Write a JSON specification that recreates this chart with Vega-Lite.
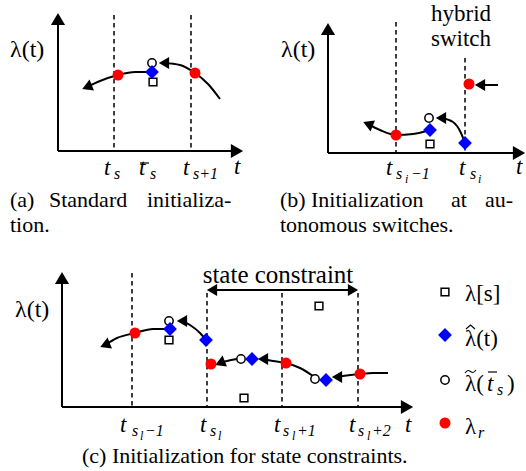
{
  "$schema": "https://vega.github.io/schema/vega-lite/v6.json",
  "width": 526,
  "height": 471,
  "padding": 0,
  "autosize": {"type": "none"},
  "background": "white",
  "config": {"view": {"stroke": null}, "text": {"font": "Liberation Serif, DejaVu Serif, Times New Roman, serif"}},
  "datasets": {
    "segs": [
      {"g": "axis", "x": 58, "y": 151, "x2": 58, "y2": 22},
      {"g": "axis", "x": 58, "y": 151, "x2": 234, "y2": 151},
      {"g": "axis", "x": 328, "y": 153, "x2": 328, "y2": 32},
      {"g": "axis", "x": 328, "y": 153, "x2": 516, "y2": 153},
      {"g": "axis", "x": 62, "y": 407, "x2": 62, "y2": 281},
      {"g": "axis", "x": 62, "y": 407, "x2": 404, "y2": 407},
      {"g": "axis", "x": 212, "y": 290, "x2": 353, "y2": 290},
      {"g": "axis", "x": 498, "y": 85, "x2": 480, "y2": 85},
      {"g": "bar", "x": 140, "y": 163, "x2": 149, "y2": 163},
      {"g": "bar", "x": 488, "y": 372, "x2": 497, "y2": 372},
      {"g": "dash", "x": 114, "y": 15, "x2": 114, "y2": 151},
      {"g": "dash", "x": 191, "y": 15, "x2": 191, "y2": 151},
      {"g": "dash", "x": 396, "y": 22, "x2": 396, "y2": 153},
      {"g": "dash", "x": 465, "y": 58, "x2": 465, "y2": 153},
      {"g": "dash", "x": 132, "y": 273, "x2": 132, "y2": 407},
      {"g": "dash", "x": 207, "y": 293, "x2": 207, "y2": 407},
      {"g": "dash", "x": 282, "y": 293, "x2": 282, "y2": 407},
      {"g": "dash", "x": 358, "y": 293, "x2": 358, "y2": 407}
    ],
    "accents": [
      {"c": "hat", "x": 466, "y": 329}, {"c": "hat", "x": 470.5, "y": 325}, {"c": "hat", "x": 475, "y": 329},
      {"c": "tilde", "x": 465, "y": 373}, {"c": "tilde", "x": 468, "y": 370.5}, {"c": "tilde", "x": 473, "y": 372.5}, {"c": "tilde", "x": 476, "y": 370}
    ],
    "curves": [
      {"c": "a1", "x": 87, "y": 87}, {"c": "a1", "x": 100, "y": 81}, {"c": "a1", "x": 118, "y": 75}, {"c": "a1", "x": 135, "y": 72}, {"c": "a1", "x": 152, "y": 72},
      {"c": "a2", "x": 164, "y": 63}, {"c": "a2", "x": 180, "y": 65}, {"c": "a2", "x": 195, "y": 73}, {"c": "a2", "x": 208, "y": 84}, {"c": "a2", "x": 220, "y": 99},
      {"c": "b1", "x": 368, "y": 124}, {"c": "b1", "x": 380, "y": 130}, {"c": "b1", "x": 396, "y": 135}, {"c": "b1", "x": 413, "y": 134}, {"c": "b1", "x": 430, "y": 130},
      {"c": "b2", "x": 441, "y": 118}, {"c": "b2", "x": 453, "y": 122}, {"c": "b2", "x": 461, "y": 133}, {"c": "b2", "x": 465, "y": 143},
      {"c": "c1", "x": 105, "y": 345}, {"c": "c1", "x": 117, "y": 338}, {"c": "c1", "x": 135, "y": 333}, {"c": "c1", "x": 153, "y": 329}, {"c": "c1", "x": 170, "y": 329},
      {"c": "c2", "x": 182, "y": 321}, {"c": "c2", "x": 190, "y": 325}, {"c": "c2", "x": 200, "y": 333}, {"c": "c2", "x": 206, "y": 340},
      {"c": "c3", "x": 220, "y": 363}, {"c": "c3", "x": 227, "y": 361}, {"c": "c3", "x": 237, "y": 359},
      {"c": "c4", "x": 263, "y": 359}, {"c": "c4", "x": 273, "y": 361}, {"c": "c4", "x": 286, "y": 363}, {"c": "c4", "x": 300, "y": 368}, {"c": "c4", "x": 313, "y": 376},
      {"c": "c5", "x": 337, "y": 377}, {"c": "c5", "x": 343, "y": 376}, {"c": "c5", "x": 360, "y": 374}, {"c": "c5", "x": 373, "y": 373}, {"c": "c5", "x": 388, "y": 373}
    ],
    "pts": [
      {"k": "red", "x": 118, "y": 75}, {"k": "red", "x": 195, "y": 73},
      {"k": "red", "x": 396, "y": 135}, {"k": "red", "x": 469, "y": 84},
      {"k": "red", "x": 135, "y": 333}, {"k": "red", "x": 211, "y": 364}, {"k": "red", "x": 286, "y": 363}, {"k": "red", "x": 360, "y": 374},
      {"k": "red", "x": 445, "y": 423},
      {"k": "blue", "x": 152, "y": 72},
      {"k": "blue", "x": 430, "y": 130}, {"k": "blue", "x": 465, "y": 143},
      {"k": "blue", "x": 170, "y": 329}, {"k": "blue", "x": 206, "y": 340}, {"k": "blue", "x": 252, "y": 359}, {"k": "blue", "x": 326, "y": 380},
      {"k": "blue", "x": 445, "y": 335},
      {"k": "circ", "x": 152, "y": 63}, {"k": "circ", "x": 429, "y": 118},
      {"k": "circ", "x": 169, "y": 321}, {"k": "circ", "x": 241, "y": 359}, {"k": "circ", "x": 315, "y": 379},
      {"k": "circ", "x": 445, "y": 380},
      {"k": "sq", "x": 153, "y": 82}, {"k": "sq", "x": 430, "y": 144},
      {"k": "sq", "x": 169, "y": 340}, {"k": "sq", "x": 244, "y": 398}, {"k": "sq", "x": 319, "y": 306},
      {"k": "sq", "x": 445, "y": 292}
    ],
    "heads": [
      {"k": "up", "x": 58, "y": 19}, {"k": "up", "x": 328, "y": 29}, {"k": "up", "x": 62, "y": 278},
      {"k": "right", "x": 237, "y": 151}, {"k": "right", "x": 519, "y": 153}, {"k": "right", "x": 407, "y": 407},
      {"k": "sright", "x": 353, "y": 290}, {"k": "left", "x": 212, "y": 290},
      {"k": "left", "x": 164, "y": 63}, {"k": "left", "x": 441, "y": 118}, {"k": "left", "x": 480, "y": 85},
      {"k": "left", "x": 182, "y": 321}, {"k": "left", "x": 263, "y": 359}, {"k": "left", "x": 337, "y": 377},
      {"k": "ld", "x": 87, "y": 87}, {"k": "ld", "x": 105, "y": 345}, {"k": "ld", "x": 220, "y": 363},
      {"k": "lu", "x": 368, "y": 124}
    ],
    "txt": [
      {"k": "lam", "x": 10, "y": 57, "t": "λ(t)"},
      {"k": "lam", "x": 281, "y": 57, "t": "λ(t)"},
      {"k": "lam", "x": 15, "y": 317, "t": "λ(t)"},
      {"k": "t", "x": 104, "y": 175, "t": "t"},
      {"k": "t", "x": 139, "y": 175, "t": "t"},
      {"k": "t", "x": 183, "y": 175, "t": "t"},
      {"k": "t", "x": 234, "y": 174, "t": "t"},
      {"k": "t", "x": 386, "y": 175, "t": "t"},
      {"k": "t", "x": 459, "y": 175, "t": "t"},
      {"k": "t", "x": 516, "y": 174, "t": "t"},
      {"k": "t", "x": 120, "y": 432, "t": "t"},
      {"k": "t", "x": 200, "y": 432, "t": "t"},
      {"k": "t", "x": 274, "y": 432, "t": "t"},
      {"k": "t", "x": 349, "y": 432, "t": "t"},
      {"k": "t", "x": 405, "y": 432, "t": "t"},
      {"k": "t", "x": 487, "y": 391, "t": "t"},
      {"k": "sub", "x": 114, "y": 179, "t": "s"},
      {"k": "sub", "x": 150, "y": 179, "t": "s"},
      {"k": "sub", "x": 193, "y": 179, "t": "s+1"},
      {"k": "sub", "x": 396, "y": 179, "t": "s"},
      {"k": "sub", "x": 411, "y": 179, "t": "−1"},
      {"k": "sub", "x": 470, "y": 179, "t": "s"},
      {"k": "sub", "x": 132, "y": 436, "t": "s"},
      {"k": "sub", "x": 145, "y": 436, "t": "−1"},
      {"k": "sub", "x": 210, "y": 436, "t": "s"},
      {"k": "sub", "x": 283, "y": 436, "t": "s"},
      {"k": "sub", "x": 297, "y": 436, "t": "+1"},
      {"k": "sub", "x": 358, "y": 436, "t": "s"},
      {"k": "sub", "x": 372, "y": 436, "t": "+2"},
      {"k": "ss", "x": 405, "y": 183, "t": "i"},
      {"k": "ss", "x": 478, "y": 183, "t": "i"},
      {"k": "ss", "x": 140, "y": 440, "t": "l"},
      {"k": "ss", "x": 218, "y": 440, "t": "l"},
      {"k": "ss", "x": 292, "y": 440, "t": "l"},
      {"k": "ss", "x": 367, "y": 440, "t": "l"},
      {"k": "cap", "x": 10, "y": 207, "t": "(a)"},
      {"k": "cap", "x": 49, "y": 207, "t": "Standard"},
      {"k": "cap", "x": 147, "y": 207, "t": "initializa-"},
      {"k": "cap", "x": 10, "y": 232, "t": "tion."},
      {"k": "cap", "x": 280, "y": 207, "t": "(b)"},
      {"k": "cap", "x": 311, "y": 207, "t": "Initialization"},
      {"k": "cap", "x": 451, "y": 207, "t": "at"},
      {"k": "cap", "x": 485, "y": 207, "t": "au-"},
      {"k": "cap", "x": 280, "y": 232, "t": "tonomous switches."},
      {"k": "cap", "x": 82, "y": 463, "t": "(c) Initialization for state constraints."},
      {"k": "hyb", "x": 461, "y": 21, "t": "hybrid"},
      {"k": "hyb", "x": 461, "y": 46, "t": "switch"},
      {"k": "head", "x": 278, "y": 283, "t": "state constraint"},
      {"k": "leg", "x": 465, "y": 301, "t": "λ[s]"},
      {"k": "leg", "x": 465, "y": 346, "t": "λ(t)"},
      {"k": "leg", "x": 465, "y": 391, "t": "λ("},
      {"k": "leg", "x": 507, "y": 391, "t": ")"},
      {"k": "legsub", "x": 497, "y": 395, "t": "s"},
      {"k": "leg", "x": 465, "y": 434, "t": "λ"},
      {"k": "legsub", "x": 478, "y": 438, "t": "r"}
    ]
  },
  "encoding": {
    "x": {"field": "x", "type": "quantitative", "scale": {"domain": [0, 526], "nice": false, "zero": false}, "axis": null},
    "y": {"field": "y", "type": "quantitative", "scale": {"domain": [0, 471], "nice": false, "zero": false, "reverse": true}, "axis": null}
  },
  "layer": [
    {
      "data": {"name": "segs"},
      "transform": [{"filter": "datum.g === 'axis'"}],
      "mark": {"type": "rule", "stroke": "black", "strokeWidth": 2},
      "encoding": {"x2": {"field": "x2"}, "y2": {"field": "y2"}}
    },
    {
      "data": {"name": "segs"},
      "transform": [{"filter": "datum.g === 'bar'"}],
      "mark": {"type": "rule", "stroke": "black", "strokeWidth": 1.2},
      "encoding": {"x2": {"field": "x2"}, "y2": {"field": "y2"}}
    },
    {
      "data": {"name": "segs"},
      "transform": [{"filter": "datum.g === 'dash'"}],
      "mark": {"type": "rule", "stroke": "black", "strokeWidth": 1.5, "strokeDash": [4.5, 3.5]},
      "encoding": {"x2": {"field": "x2"}, "y2": {"field": "y2"}}
    },
    {
      "data": {"name": "curves"},
      "mark": {"type": "line", "stroke": "black", "strokeWidth": 2, "interpolate": "monotone"},
      "encoding": {"detail": {"field": "c"}}
    },
    {
      "data": {"name": "accents"},
      "transform": [{"filter": "datum.c === 'hat'"}],
      "mark": {"type": "line", "stroke": "black", "strokeWidth": 1.1, "interpolate": "linear"},
      "encoding": {}
    },
    {
      "data": {"name": "accents"},
      "transform": [{"filter": "datum.c === 'tilde'"}],
      "mark": {"type": "line", "stroke": "black", "strokeWidth": 1.1, "interpolate": "monotone"},
      "encoding": {}
    },
    {
      "data": {"name": "heads"},
      "transform": [{"filter": "datum.k === 'up'"}],
      "mark": {"type": "point", "shape": "triangle-up", "filled": true, "color": "black", "opacity": 1, "size": 200}
    },
    {
      "data": {"name": "heads"},
      "transform": [{"filter": "datum.k === 'right'"}],
      "mark": {"type": "point", "shape": "triangle-right", "filled": true, "color": "black", "opacity": 1, "size": 200}
    },
    {
      "data": {"name": "heads"},
      "transform": [{"filter": "datum.k === 'sright'"}],
      "mark": {"type": "point", "shape": "triangle-right", "filled": true, "color": "black", "opacity": 1, "size": 140}
    },
    {
      "data": {"name": "heads"},
      "transform": [{"filter": "datum.k === 'left'"}],
      "mark": {"type": "point", "shape": "triangle-left", "filled": true, "color": "black", "opacity": 1, "size": 140}
    },
    {
      "data": {"name": "heads"},
      "transform": [{"filter": "datum.k === 'ld'"}],
      "mark": {"type": "point", "shape": "triangle-left", "filled": true, "color": "black", "opacity": 1, "size": 140, "angle": -22}
    },
    {
      "data": {"name": "heads"},
      "transform": [{"filter": "datum.k === 'lu'"}],
      "mark": {"type": "point", "shape": "triangle-left", "filled": true, "color": "black", "opacity": 1, "size": 140, "angle": 22}
    },
    {
      "data": {"name": "pts"},
      "transform": [{"filter": "datum.k === 'sq'"}],
      "mark": {"type": "point", "shape": "square", "filled": true, "fill": "white", "stroke": "black", "strokeWidth": 1.5, "opacity": 1, "size": 60}
    },
    {
      "data": {"name": "pts"},
      "transform": [{"filter": "datum.k === 'circ'"}],
      "mark": {"type": "point", "shape": "circle", "filled": true, "fill": "white", "stroke": "black", "strokeWidth": 1.5, "opacity": 1, "size": 70}
    },
    {
      "data": {"name": "pts"},
      "transform": [{"filter": "datum.k === 'blue'"}],
      "mark": {"type": "point", "shape": "diamond", "filled": true, "color": "#0000ff", "opacity": 1, "size": 190}
    },
    {
      "data": {"name": "pts"},
      "transform": [{"filter": "datum.k === 'red'"}],
      "mark": {"type": "point", "shape": "circle", "filled": true, "color": "#ff0000", "opacity": 1, "size": 121}
    },
    {
      "data": {"name": "txt"},
      "transform": [{"filter": "datum.k === 'lam'"}],
      "mark": {"type": "text", "fontSize": 24, "align": "left", "baseline": "alphabetic"},
      "encoding": {"text": {"field": "t"}}
    },
    {
      "data": {"name": "txt"},
      "transform": [{"filter": "datum.k === 't'"}],
      "mark": {"type": "text", "fontSize": 23, "fontStyle": "italic", "align": "left", "baseline": "alphabetic"},
      "encoding": {"text": {"field": "t"}}
    },
    {
      "data": {"name": "txt"},
      "transform": [{"filter": "datum.k === 'sub' || datum.k === 'legsub'"}],
      "mark": {"type": "text", "fontSize": 16, "fontStyle": "italic", "align": "left", "baseline": "alphabetic"},
      "encoding": {"text": {"field": "t"}}
    },
    {
      "data": {"name": "txt"},
      "transform": [{"filter": "datum.k === 'ss'"}],
      "mark": {"type": "text", "fontSize": 12, "fontStyle": "italic", "align": "left", "baseline": "alphabetic"},
      "encoding": {"text": {"field": "t"}}
    },
    {
      "data": {"name": "txt"},
      "transform": [{"filter": "datum.k === 'cap'"}],
      "mark": {"type": "text", "fontSize": 22, "align": "left", "baseline": "alphabetic"},
      "encoding": {"text": {"field": "t"}}
    },
    {
      "data": {"name": "txt"},
      "transform": [{"filter": "datum.k === 'hyb'"}],
      "mark": {"type": "text", "fontSize": 23, "align": "center", "baseline": "alphabetic"},
      "encoding": {"text": {"field": "t"}}
    },
    {
      "data": {"name": "txt"},
      "transform": [{"filter": "datum.k === 'head'"}],
      "mark": {"type": "text", "fontSize": 25, "align": "center", "baseline": "alphabetic"},
      "encoding": {"text": {"field": "t"}}
    },
    {
      "data": {"name": "txt"},
      "transform": [{"filter": "datum.k === 'leg'"}],
      "mark": {"type": "text", "fontSize": 23, "align": "left", "baseline": "alphabetic"},
      "encoding": {"text": {"field": "t"}}
    }
  ]
}
